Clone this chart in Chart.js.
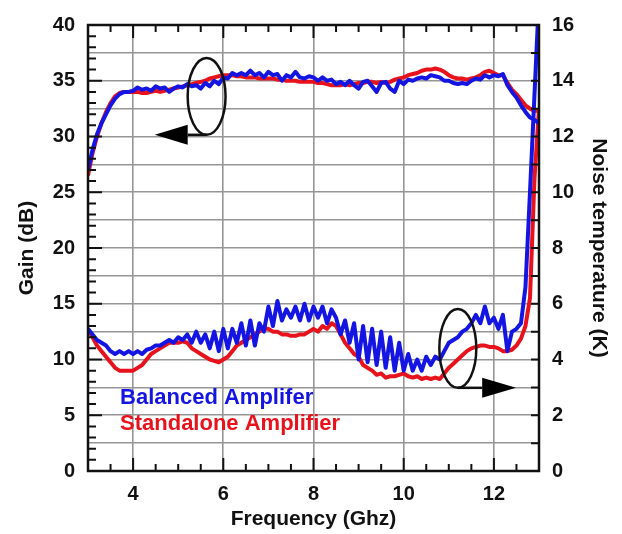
<!DOCTYPE html>
<html>
<head>
<meta charset="utf-8">
<title>Gain and noise temperature</title>
<script src="https://cdn.jsdelivr.net/npm/chart.js@4.4.1/dist/chart.umd.min.js"></script>
<style>
  html, body { margin: 0; padding: 0; background: #fff; }
  #wrap { width: 622px; height: 534px; position: relative; }
</style>
</head>
<body>
<div id="wrap"><canvas id="chart" width="622" height="534"></canvas></div>
<script>
// frequency sweep (GHz)
var freq = [3.0, 3.1, 3.2, 3.3, 3.4, 3.5, 3.6, 3.7, 3.8, 3.9,
  4.0, 4.1, 4.2, 4.3, 4.4, 4.5, 4.6, 4.7, 4.8, 4.9,
  5.0, 5.1, 5.2, 5.3, 5.4, 5.5, 5.6, 5.7, 5.8, 5.9,
  6.0, 6.1, 6.2, 6.3, 6.4, 6.5, 6.6, 6.7, 6.8, 6.9,
  7.0, 7.1, 7.2, 7.3, 7.4, 7.5, 7.6, 7.7, 7.8, 7.9,
  8.0, 8.1, 8.2, 8.3, 8.4, 8.5, 8.6, 8.7, 8.8, 8.9,
  9.0, 9.1, 9.2, 9.3, 9.4, 9.5, 9.6, 9.7, 9.8, 9.9,
  10.0, 10.1, 10.2, 10.3, 10.4, 10.5, 10.6, 10.7, 10.8, 10.9,
  11.0, 11.1, 11.2, 11.3, 11.4, 11.5, 11.6, 11.7, 11.8, 11.9,
  12.0, 12.1, 12.2, 12.3, 12.4, 12.5, 12.6, 12.7, 12.8, 12.9,
  13.0];

// gain (dB), left axis
var gainBalanced = [27.0, 28.8, 30.2, 31.2, 32.0, 32.8, 33.4, 33.8, 34.0, 34.0,
  34.1, 34.4, 34.2, 34.3, 34.1, 34.5, 34.3, 34.4, 34.0, 34.3,
  34.5, 34.4, 34.7, 34.5, 34.6, 34.3, 34.8, 34.5, 35.0, 34.7,
  35.3, 35.2, 35.7, 35.5, 35.7, 35.5, 35.9, 35.5, 35.7, 35.3,
  35.8, 35.5, 35.6, 35.0, 35.5, 35.3, 35.8, 35.3, 35.2, 35.4,
  35.3, 35.0, 35.3, 35.0, 35.1, 34.7, 34.9, 34.6, 35.0, 34.6,
  34.3, 34.9, 35.0, 34.5, 34.0, 34.8, 34.9, 34.3, 34.0, 35.0,
  34.7, 35.1, 35.0, 35.2, 35.3, 35.2, 35.5, 35.4, 35.3, 35.0,
  35.0, 34.8, 34.7, 34.8, 34.7, 35.0, 35.2, 35.1, 35.5, 35.3,
  35.5, 35.4, 35.6, 34.6, 34.0, 33.5, 32.8, 32.2, 31.7, 31.5,
  31.2];
var gainStandalone = [26.5, 28.5, 30.0, 31.2, 32.2, 33.0, 33.6, 33.9, 34.0, 34.0,
  34.0, 34.0, 33.9, 33.9, 34.0, 34.1, 34.0, 34.1, 34.2, 34.3,
  34.4, 34.5, 34.6, 34.7, 34.8, 34.9, 35.0, 35.2, 35.3, 35.4,
  35.5, 35.5, 35.5, 35.4, 35.4, 35.3, 35.3, 35.3, 35.2, 35.2,
  35.2, 35.2, 35.1, 35.1, 35.0, 35.0, 35.0, 34.9, 34.9, 34.9,
  34.9, 34.8, 34.8, 34.7, 34.6, 34.6, 34.6, 34.7, 34.6, 34.7,
  34.8, 34.8, 34.9, 34.9, 34.8, 34.9, 34.8, 34.9, 35.1, 35.2,
  35.3, 35.5, 35.6, 35.7, 35.9, 36.0, 36.0, 36.1, 36.0, 35.8,
  35.5, 35.3, 35.2, 35.2, 35.1, 35.2, 35.3, 35.5, 35.8, 35.9,
  35.7, 35.5, 35.5, 34.8, 34.2, 33.8, 33.3, 32.8, 32.5, 32.3,
  32.3];

// noise temperature (K), right axis
var noiseBalanced = [5.1, 4.9, 4.7, 4.6, 4.5, 4.3, 4.2, 4.3, 4.2, 4.3,
  4.2, 4.3, 4.2, 4.35, 4.4, 4.5, 4.5, 4.6, 4.7, 4.6,
  4.8, 4.7, 4.9, 4.6, 5.0, 4.6, 4.9, 4.4, 5.0, 4.3,
  5.1, 4.4, 5.1, 4.6, 5.3, 4.5, 5.4, 4.5, 5.3, 5.0,
  5.9, 5.2, 6.1, 5.4, 5.8, 5.5, 5.9, 5.4, 6.0, 5.4,
  5.9, 5.5, 5.9, 5.3, 5.8, 5.5, 4.9, 5.4, 4.6, 5.3,
  4.0, 5.2, 3.9, 5.1, 3.8, 5.0, 3.7, 4.8, 3.6, 4.6,
  3.6, 4.2, 3.6, 4.0, 3.6, 4.1, 3.8, 4.1, 4.0, 4.3,
  4.6, 4.7, 4.8, 5.0, 5.1, 5.3, 5.6, 5.3, 5.9, 5.3,
  5.5, 5.1, 5.6, 4.3, 5.0, 5.1, 5.3, 6.6, 10.0, 13.5,
  17.0];
var noiseStandalone = [5.1, 4.8, 4.5, 4.3, 4.1, 3.9, 3.7, 3.6, 3.6, 3.6,
  3.6, 3.7, 3.8, 4.0, 4.2, 4.3, 4.4, 4.5, 4.6, 4.6,
  4.6, 4.65, 4.6, 4.4, 4.3, 4.2, 4.1, 4.0, 3.95, 3.9,
  4.0, 4.1, 4.3, 4.5, 4.6, 4.7, 4.8, 4.9, 5.0, 5.1,
  5.1, 5.0, 5.0, 4.9, 4.9, 4.85, 4.85, 4.9, 4.9, 5.0,
  5.1, 5.0, 5.2, 5.1, 5.3, 5.2, 4.9, 4.6, 4.4, 4.2,
  4.1, 3.8, 3.7, 3.6, 3.45, 3.5, 3.35, 3.4, 3.4, 3.45,
  3.5, 3.4, 3.35, 3.4, 3.3, 3.35, 3.3, 3.35, 3.3, 3.5,
  3.7, 3.85, 4.0, 4.15, 4.3, 4.4, 4.45, 4.5, 4.5, 4.45,
  4.45, 4.4, 4.3, 4.3, 4.35, 4.5, 4.75, 5.2, 6.2, 10.5,
  13.0];

var xTicks = [4, 6, 8, 10, 12];
var seriesNames = ['Balanced Amplifer', 'Standalone Amplifier'];

var BLUE = '#1515e3';
var RED = '#e8121c';
var FONT = "'Liberation Sans', Arial, sans-serif";

function pts(ys) {
  return freq.map(function(f, i) { return { x: f, y: ys[i] }; });
}

// frame, inward ticks, ellipses/arrows and the text legend
var decor = {
  id: 'decor',
  afterDatasetsDraw: function(chart) {
    var ctx = chart.ctx, a = chart.chartArea;
    var sx = chart.scales.x, sy = chart.scales.y, sy2 = chart.scales.y2;
    ctx.save();
    ctx.strokeStyle = '#111';
    ctx.lineWidth = 2;
    ctx.beginPath();
    var v, p, len;
    for (v = 3.5; v < 13; v += 0.5) {
      p = sx.getPixelForValue(v);
      len = (v % 2 === 0) ? 13 : 7;
      ctx.moveTo(p, a.bottom); ctx.lineTo(p, a.bottom - len);
      ctx.moveTo(p, a.top); ctx.lineTo(p, a.top + len);
    }
    for (v = 1; v < 40; v++) {
      p = sy.getPixelForValue(v);
      len = (v % 5 === 0) ? 14 : 8;
      ctx.moveTo(a.left, p); ctx.lineTo(a.left + len, p);
    }
    for (v = 1; v < 16; v++) {
      p = sy2.getPixelForValue(v);
      ctx.moveTo(a.right, p); ctx.lineTo(a.right - 8, p);
    }
    ctx.stroke();

    ctx.lineWidth = 2.5;
    ctx.strokeRect(a.left, a.top, a.right - a.left, a.bottom - a.top);

    // ellipse + arrow markers
    function marker(cf, cg, rf, rg, tipF, baseF, halfH) {
      var cx = sx.getPixelForValue(cf), cy = sy.getPixelForValue(cg);
      var rx = sx.getPixelForValue(cf + rf) - cx;
      var ry = cy - sy.getPixelForValue(cg + rg);
      ctx.lineWidth = 2.5;
      ctx.beginPath();
      ctx.ellipse(cx, cy, rx, ry, 0, 0, Math.PI * 2);
      ctx.stroke();
      var by = cy + ry;
      var tip = sx.getPixelForValue(tipF), base = sx.getPixelForValue(baseF);
      ctx.beginPath();
      ctx.moveTo(cx, by); ctx.lineTo(base, by);
      ctx.stroke();
      ctx.fillStyle = '#000';
      ctx.beginPath();
      ctx.moveTo(tip, by);
      ctx.lineTo(base, by - halfH);
      ctx.lineTo(base, by + halfH);
      ctx.closePath();
      ctx.fill();
    }
    marker(5.63, 33.6, 0.42, 3.45, 4.48, 5.21, 10);
    marker(11.2, 11.0, 0.41, 3.54, 12.49, 11.74, 10);

    ctx.font = 'bold 22px ' + FONT;
    ctx.textBaseline = 'alphabetic';
    ctx.fillStyle = BLUE;
    ctx.fillText(seriesNames[0], sx.getPixelForValue(3.71), sy.getPixelForValue(6.0));
    ctx.fillStyle = RED;
    ctx.fillText(seriesNames[1], sx.getPixelForValue(3.71), sy.getPixelForValue(3.7));
    ctx.restore();
  }
};

var tickFont = { family: FONT, size: 20, weight: 'bold' };
var titleFont = { family: FONT, size: 21, weight: 'bold', lineHeight: 1.2 };

new Chart(document.getElementById('chart'), {
  type: 'line',
  data: {
    datasets: [
      { label: 'Balanced gain', data: pts(gainBalanced), yAxisID: 'y', borderColor: BLUE },
      { label: 'Balanced noise', data: pts(noiseBalanced), yAxisID: 'y2', borderColor: BLUE },
      { label: 'Standalone gain', data: pts(gainStandalone), yAxisID: 'y', borderColor: RED },
      { label: 'Standalone noise', data: pts(noiseStandalone), yAxisID: 'y2', borderColor: RED }
    ]
  },
  options: {
    responsive: false,
    animation: false,
    devicePixelRatio: 1,
    layout: { padding: { top: 19, left: 0, right: 0, bottom: 0 } },
    elements: {
      line: { borderWidth: 4, tension: 0, borderJoinStyle: 'round' },
      point: { radius: 0 }
    },
    plugins: { legend: { display: false }, tooltip: { enabled: false } },
    scales: {
      x: {
        type: 'linear', min: 3, max: 13,
        afterBuildTicks: function(s) { s.ticks = xTicks.map(function(v) { return { value: v }; }); },
        afterFit: function(s) { s.height = 63; },
        grid: { color: '#969696', lineWidth: 1.6, drawTicks: false },
        border: { display: false },
        ticks: { font: tickFont, color: '#111', padding: 11, maxRotation: 0 },
        title: { display: true, text: 'Frequency (Ghz)', font: titleFont, color: '#111', padding: { bottom: 2 } }
      },
      y: {
        position: 'left', min: 0, max: 40,
        afterFit: function(s) { s.width = 88; },
        grid: { color: '#969696', lineWidth: 1.6, drawTicks: false },
        border: { display: false },
        ticks: {
          stepSize: 2.5, font: tickFont, color: '#111', padding: 13,
          callback: function(v) { return v % 5 === 0 ? v : ''; }
        },
        title: { display: true, text: 'Gain (dB)', font: titleFont, color: '#111', padding: { top: 15 } }
      },
      y2: {
        position: 'right', min: 0, max: 16,
        afterFit: function(s) { s.width = 83; },
        grid: { display: false, drawTicks: false },
        border: { display: false },
        ticks: { stepSize: 2, font: tickFont, color: '#111', padding: 13 },
        title: { display: true, text: 'Noise temperature (K)', font: titleFont, color: '#111', padding: { top: 11 } }
      }
    }
  },
  plugins: [decor]
});
</script>
</body>
</html>
